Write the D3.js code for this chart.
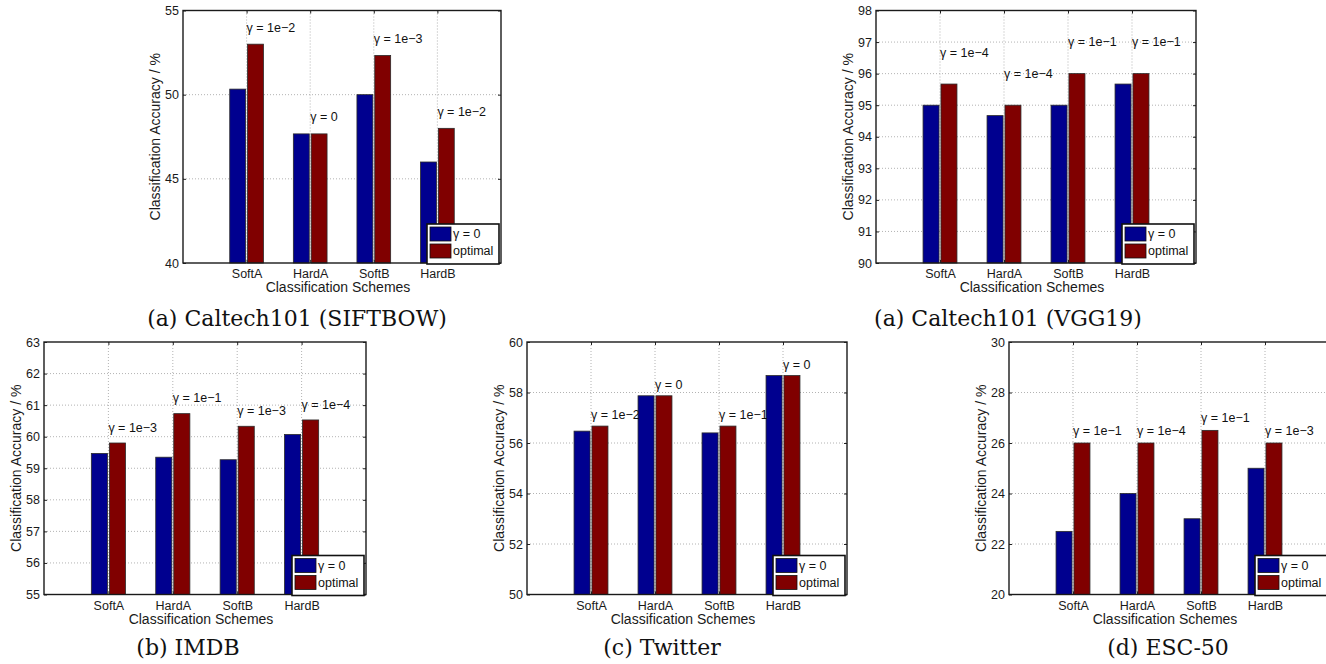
<!DOCTYPE html>
<html>
<head>
<meta charset="utf-8">
<script src="https://cdn.jsdelivr.net/npm/d3@7"></script>
<style>
body { margin: 0; background: #fff; }
svg { display: block; font-family: "Liberation Sans", Arial, sans-serif; }
.axis path { display: none; }
.axis line { stroke: #222; }
.axis text { font-size: 12.5px; fill: #1a1a1a; }
.grid line { stroke: #a0a0a0; stroke-width: 0.8; stroke-dasharray: 1,2; }
</style>
</head>
<body>
<svg id="svg" width="1326" height="664"></svg>
<script>
/*jshint esversion: 6 */

const categories = ["SoftA", "HardA", "SoftB", "HardB"];
const legendLabels = ["\u03b3 = 0", "optimal"];

const siftbowBase = [50.33, 47.67, 50.0, 46.0];
const siftbowOpt = [53.0, 47.67, 52.33, 48.0];
const siftbowGamma = ["1e\u22122", "0", "1e\u22123", "1e\u22122"];

const vggBase = [95.0, 94.67, 95.0, 95.67];
const vggOpt = [95.67, 95.0, 96.0, 96.0];
const vggGamma = ["1e\u22124", "1e\u22124", "1e\u22121", "1e\u22121"];

const imdbBase = [59.47, 59.35, 59.27, 60.07];
const imdbOpt = [59.8, 60.73, 60.33, 60.53];
const imdbGamma = ["1e\u22123", "1e\u22121", "1e\u22123", "1e\u22124"];

const twitterBase = [56.47, 57.87, 56.4, 58.67];
const twitterOpt = [56.67, 57.87, 56.67, 58.67];
const twitterGamma = ["1e\u22122", "0", "1e\u22121", "0"];

const escBase = [22.5, 24.0, 23.0, 25.0];
const escOpt = [26.0, 26.0, 26.5, 26.0];
const escGamma = ["1e\u22121", "1e\u22124", "1e\u22121", "1e\u22123"];

const colors = ["#00008f", "#800000"];
const plotHeight = 252.5;

const panels = [
    {base: siftbowBase, opt: siftbowOpt, gamma: siftbowGamma, yDomain: [40, 55], yStep: 5, labelGap: 1,
     caption: "(a) Caltech101 (SIFTBOW)", left: 183, top: 10.5, width: 318, captionX: 297, captionY: 326},
    {base: vggBase, opt: vggOpt, gamma: vggGamma, yDomain: [90, 98], yStep: 1, labelGap: 1,
     caption: "(a) Caltech101 (VGG19)", left: 876, top: 10.5, width: 320, captionX: 1008, captionY: 326},
    {base: imdbBase, opt: imdbOpt, gamma: imdbGamma, yDomain: [55, 63], yStep: 1, labelGap: 0.5,
     caption: "(b) IMDB", left: 44, top: 342, width: 322, captionX: 188, captionY: 655},
    {base: twitterBase, opt: twitterOpt, gamma: twitterGamma, yDomain: [50, 60], yStep: 2, labelGap: 0.45,
     caption: "(c) Twitter", left: 527, top: 342, width: 320, captionX: 662, captionY: 655},
    {base: escBase, opt: escOpt, gamma: escGamma, yDomain: [20, 30], yStep: 2, labelGap: 0.5,
     caption: "(d) ESC-50", left: 1009, top: 342, width: 320, captionX: 1168, captionY: 655}
];

const svg = d3.select("#svg");
panels.forEach(drawPanel);

function drawPanel(p) {
    const w = p.width, h = plotHeight;
    const g = svg.append("g").attr("transform", "translate(" + [p.left, p.top] + ")");

    const xScale = d3.scaleLinear().domain([0, categories.length + 1]).range([0, w]);
    const yScale = d3.scaleLinear().domain(p.yDomain).range([h, 0]);
    const yTicks = d3.range(p.yDomain[0], p.yDomain[1] + 0.001, p.yStep);
    const xTicks = categories.map((c, i) => i + 1);

    // dotted grid
    const grid = g.append("g").attr("class", "grid");
    grid.selectAll(".gy").data(yTicks.slice(1, -1)).join("line")
        .attr("x1", 0).attr("x2", w)
        .attr("y1", d => yScale(d)).attr("y2", d => yScale(d));
    grid.selectAll(".gx").data(xTicks).join("line")
        .attr("x1", d => xScale(d)).attr("x2", d => xScale(d))
        .attr("y1", 0).attr("y2", h);

    // grouped bars
    const barW = 0.25, offs = [-0.14, 0.14];
    [p.base, p.opt].forEach((vals, s) => {
        g.append("g").selectAll("rect").data(vals).join("rect")
            .attr("x", (d, i) => xScale(i + 1 + offs[s] - barW / 2))
            .attr("width", xScale(barW) - xScale(0))
            .attr("y", d => yScale(d))
            .attr("height", d => yScale(p.yDomain[0]) - yScale(d))
            .attr("fill", colors[s])
            .attr("stroke", "#2a2a2a")
            .attr("stroke-width", 0.8);
    });

    // gamma annotations
    g.append("g").selectAll("text").data(p.opt).join("text")
        .attr("x", (d, i) => xScale(i + 1))
        .attr("y", d => yScale(d + p.labelGap))
        .attr("dy", "0.35em")
        .attr("font-size", "12.5px")
        .attr("fill", "#111")
        .text((d, i) => "\u03b3 = " + p.gamma[i]);

    // axes with inward ticks
    g.append("g").attr("class", "axis")
        .call(d3.axisLeft(yScale).tickValues(yTicks).tickSize(-3).tickPadding(4).tickFormat(d3.format("d")));
    g.append("g").attr("class", "axis").attr("transform", "translate(" + [w, 0] + ")")
        .call(d3.axisRight(yScale).tickValues(yTicks).tickSize(-3).tickFormat(""));
    g.append("g").attr("class", "axis").attr("transform", "translate(" + [0, h] + ")")
        .call(d3.axisBottom(xScale).tickValues(xTicks).tickSize(-3).tickPadding(6.5)
            .tickFormat(d => categories[d - 1]));
    g.append("g").attr("class", "axis")
        .call(d3.axisTop(xScale).tickValues(xTicks).tickSize(-3).tickFormat(""));

    g.append("rect")
        .attr("width", w).attr("height", h)
        .attr("fill", "none").attr("stroke", "#1a1a1a").attr("stroke-width", 1.4);

    // axis titles
    g.append("text")
        .attr("transform", "translate(" + [-28, h / 2] + ") rotate(-90)")
        .attr("text-anchor", "middle").attr("dy", "0.35em")
        .attr("font-size", "14px").attr("fill", "#1a1a1a")
        .text("Classification Accuracy / %");
    g.append("text")
        .attr("x", w / 2 - 4).attr("y", h + 29)
        .attr("text-anchor", "middle")
        .attr("font-size", "14px").attr("fill", "#1a1a1a")
        .text("Classification Schemes");

    // legend
    const lw = 72, lh = 40;
    const lg = g.append("g").attr("transform", "translate(" + [w - lw - 2, h + 1 - lh] + ")");
    lg.append("rect").attr("width", lw).attr("height", lh)
        .attr("fill", "#fff").attr("stroke", "#111").attr("stroke-width", 1.6);
    legendLabels.forEach((lab, s) => {
        lg.append("rect")
            .attr("x", 3).attr("y", 3 + s * 17)
            .attr("width", 21).attr("height", 14)
            .attr("fill", colors[s]).attr("stroke", "#111").attr("stroke-width", 0.8);
        lg.append("text")
            .attr("x", 26).attr("y", 10 + s * 17).attr("dy", "0.35em")
            .attr("font-size", "12.5px").attr("fill", "#111")
            .text(lab);
    });

    // caption
    svg.append("text")
        .attr("x", p.captionX).attr("y", p.captionY)
        .attr("text-anchor", "middle")
        .attr("font-family", "'DejaVu Serif', 'Liberation Serif', serif")
        .attr("font-size", "22px").attr("fill", "#111")
        .text(p.caption);
}
</script>
</body>
</html>
